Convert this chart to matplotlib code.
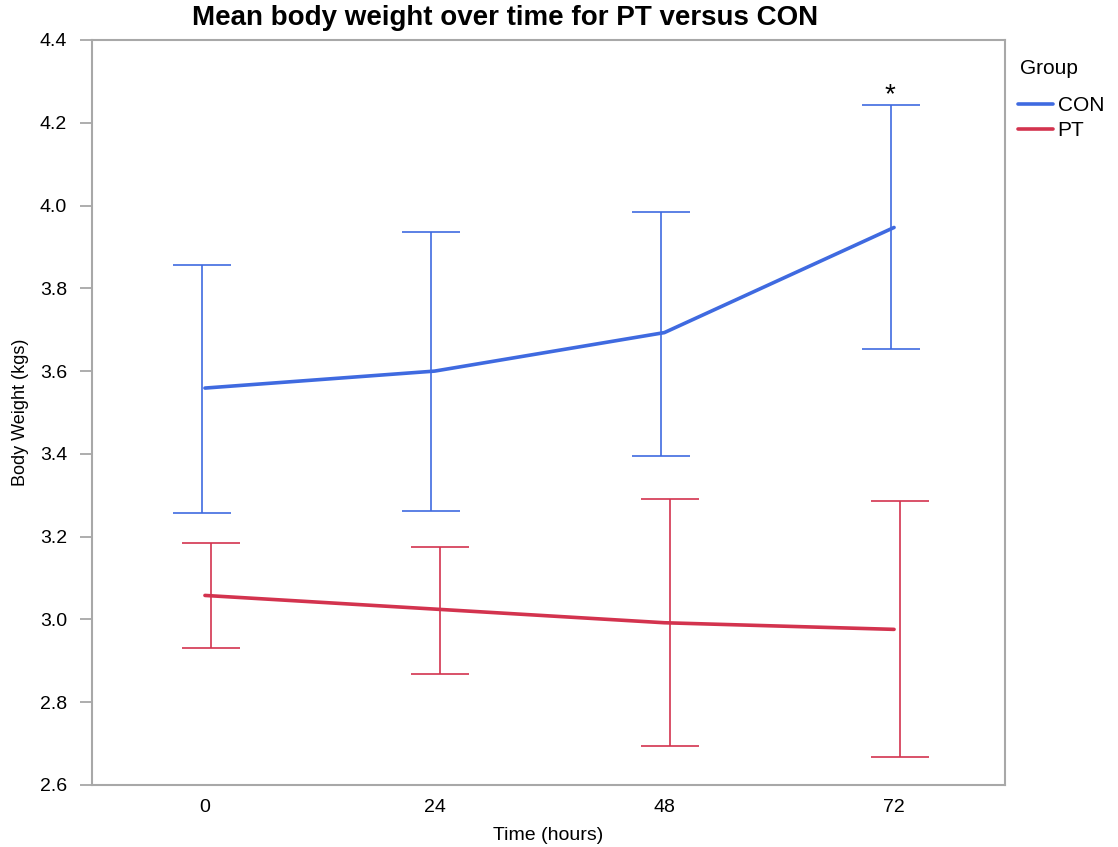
import numpy as np
import matplotlib
matplotlib.use("Agg")
import matplotlib.pyplot as plt

# data
hours = np.array([0, 24, 48, 72])
con_mean = np.array([3.559, 3.600, 3.693, 3.947])
con_hi = np.array([3.856, 3.936, 3.984, 4.243])
con_lo = np.array([3.258, 3.262, 3.396, 3.653])
pt_mean = np.array([3.058, 3.025, 2.992, 2.976])
pt_hi = np.array([3.184, 3.175, 3.290, 3.285])
pt_lo = np.array([2.930, 2.869, 2.694, 2.668])

con_col = '#3f6ae0'
pt_col = '#d3334e'

plt.rcParams['font.family'] = ['Liberation Sans', 'DejaVu Sans']

fig = plt.figure(figsize=(11.18, 8.47), dpi=100)
ax = fig.add_axes([0.0823, 0.0732, 0.8167, 0.8796])

# error bars are dodged a little sideways from the time point
ax.errorbar(hours - 0.35, con_mean, yerr=[con_mean - con_lo, con_hi - con_mean],
            fmt='none', ecolor=con_col, elinewidth=1.4, capsize=21, capthick=1.4, alpha=0.85)
ax.errorbar(hours + 0.6, pt_mean, yerr=[pt_mean - pt_lo, pt_hi - pt_mean],
            fmt='none', ecolor=pt_col, elinewidth=1.4, capsize=21, capthick=1.4, alpha=0.85)

ax.plot(hours, con_mean, color=con_col, lw=2.6, label='CON', solid_capstyle='round')
ax.plot(hours, pt_mean, color=pt_col, lw=2.6, label='PT', solid_capstyle='round')

# significance mark
ax.text(72 - 0.4, 4.245 - 0.01, '*', ha='center', va='bottom', fontsize=20)

ax.set_xlim(-11.8, 83.6)
ax.set_ylim(2.6, 4.4)
ax.set_xticks(hours)
ax.set_yticks(np.arange(2.6, 4.41, 0.2))
ax.set_yticklabels(['%.1f' % v for v in np.arange(2.6, 4.41, 0.2)])
ax.tick_params(axis='x', length=0, pad=10, labelsize=14)
ax.tick_params(axis='y', length=9, color='#a0a0a0', width=1.2, pad=9, labelsize=14)
for s in ax.spines.values():
    s.set_color('#a8a8a8')
    s.set_linewidth(1.5)

ax.set_xlabel('Time (hours)', fontsize=14, labelpad=8)
ax.set_ylabel('Body Weight (kgs)', fontsize=13, labelpad=8)

fig.text(505 / 1118, 1 - 18 / 847, 'Mean body weight over time for PT versus CON',
         ha='center', va='center', fontsize=20, fontweight='bold')

# legend title drawn separately to get the wider gap under it
fig.text(1020 / 1118, 1 - 68 / 847, 'Group', ha='left', va='center', fontsize=15)
leg = ax.legend(loc='upper left', bbox_to_anchor=(1018 / 1118, 1 - 96 / 847),
                bbox_transform=fig.transFigure, frameon=False,
                fontsize=15, handlelength=1.7, handletextpad=0.2,
                labelspacing=0.3, borderaxespad=0, borderpad=0)

fig.savefig('out.png', dpi=100)
